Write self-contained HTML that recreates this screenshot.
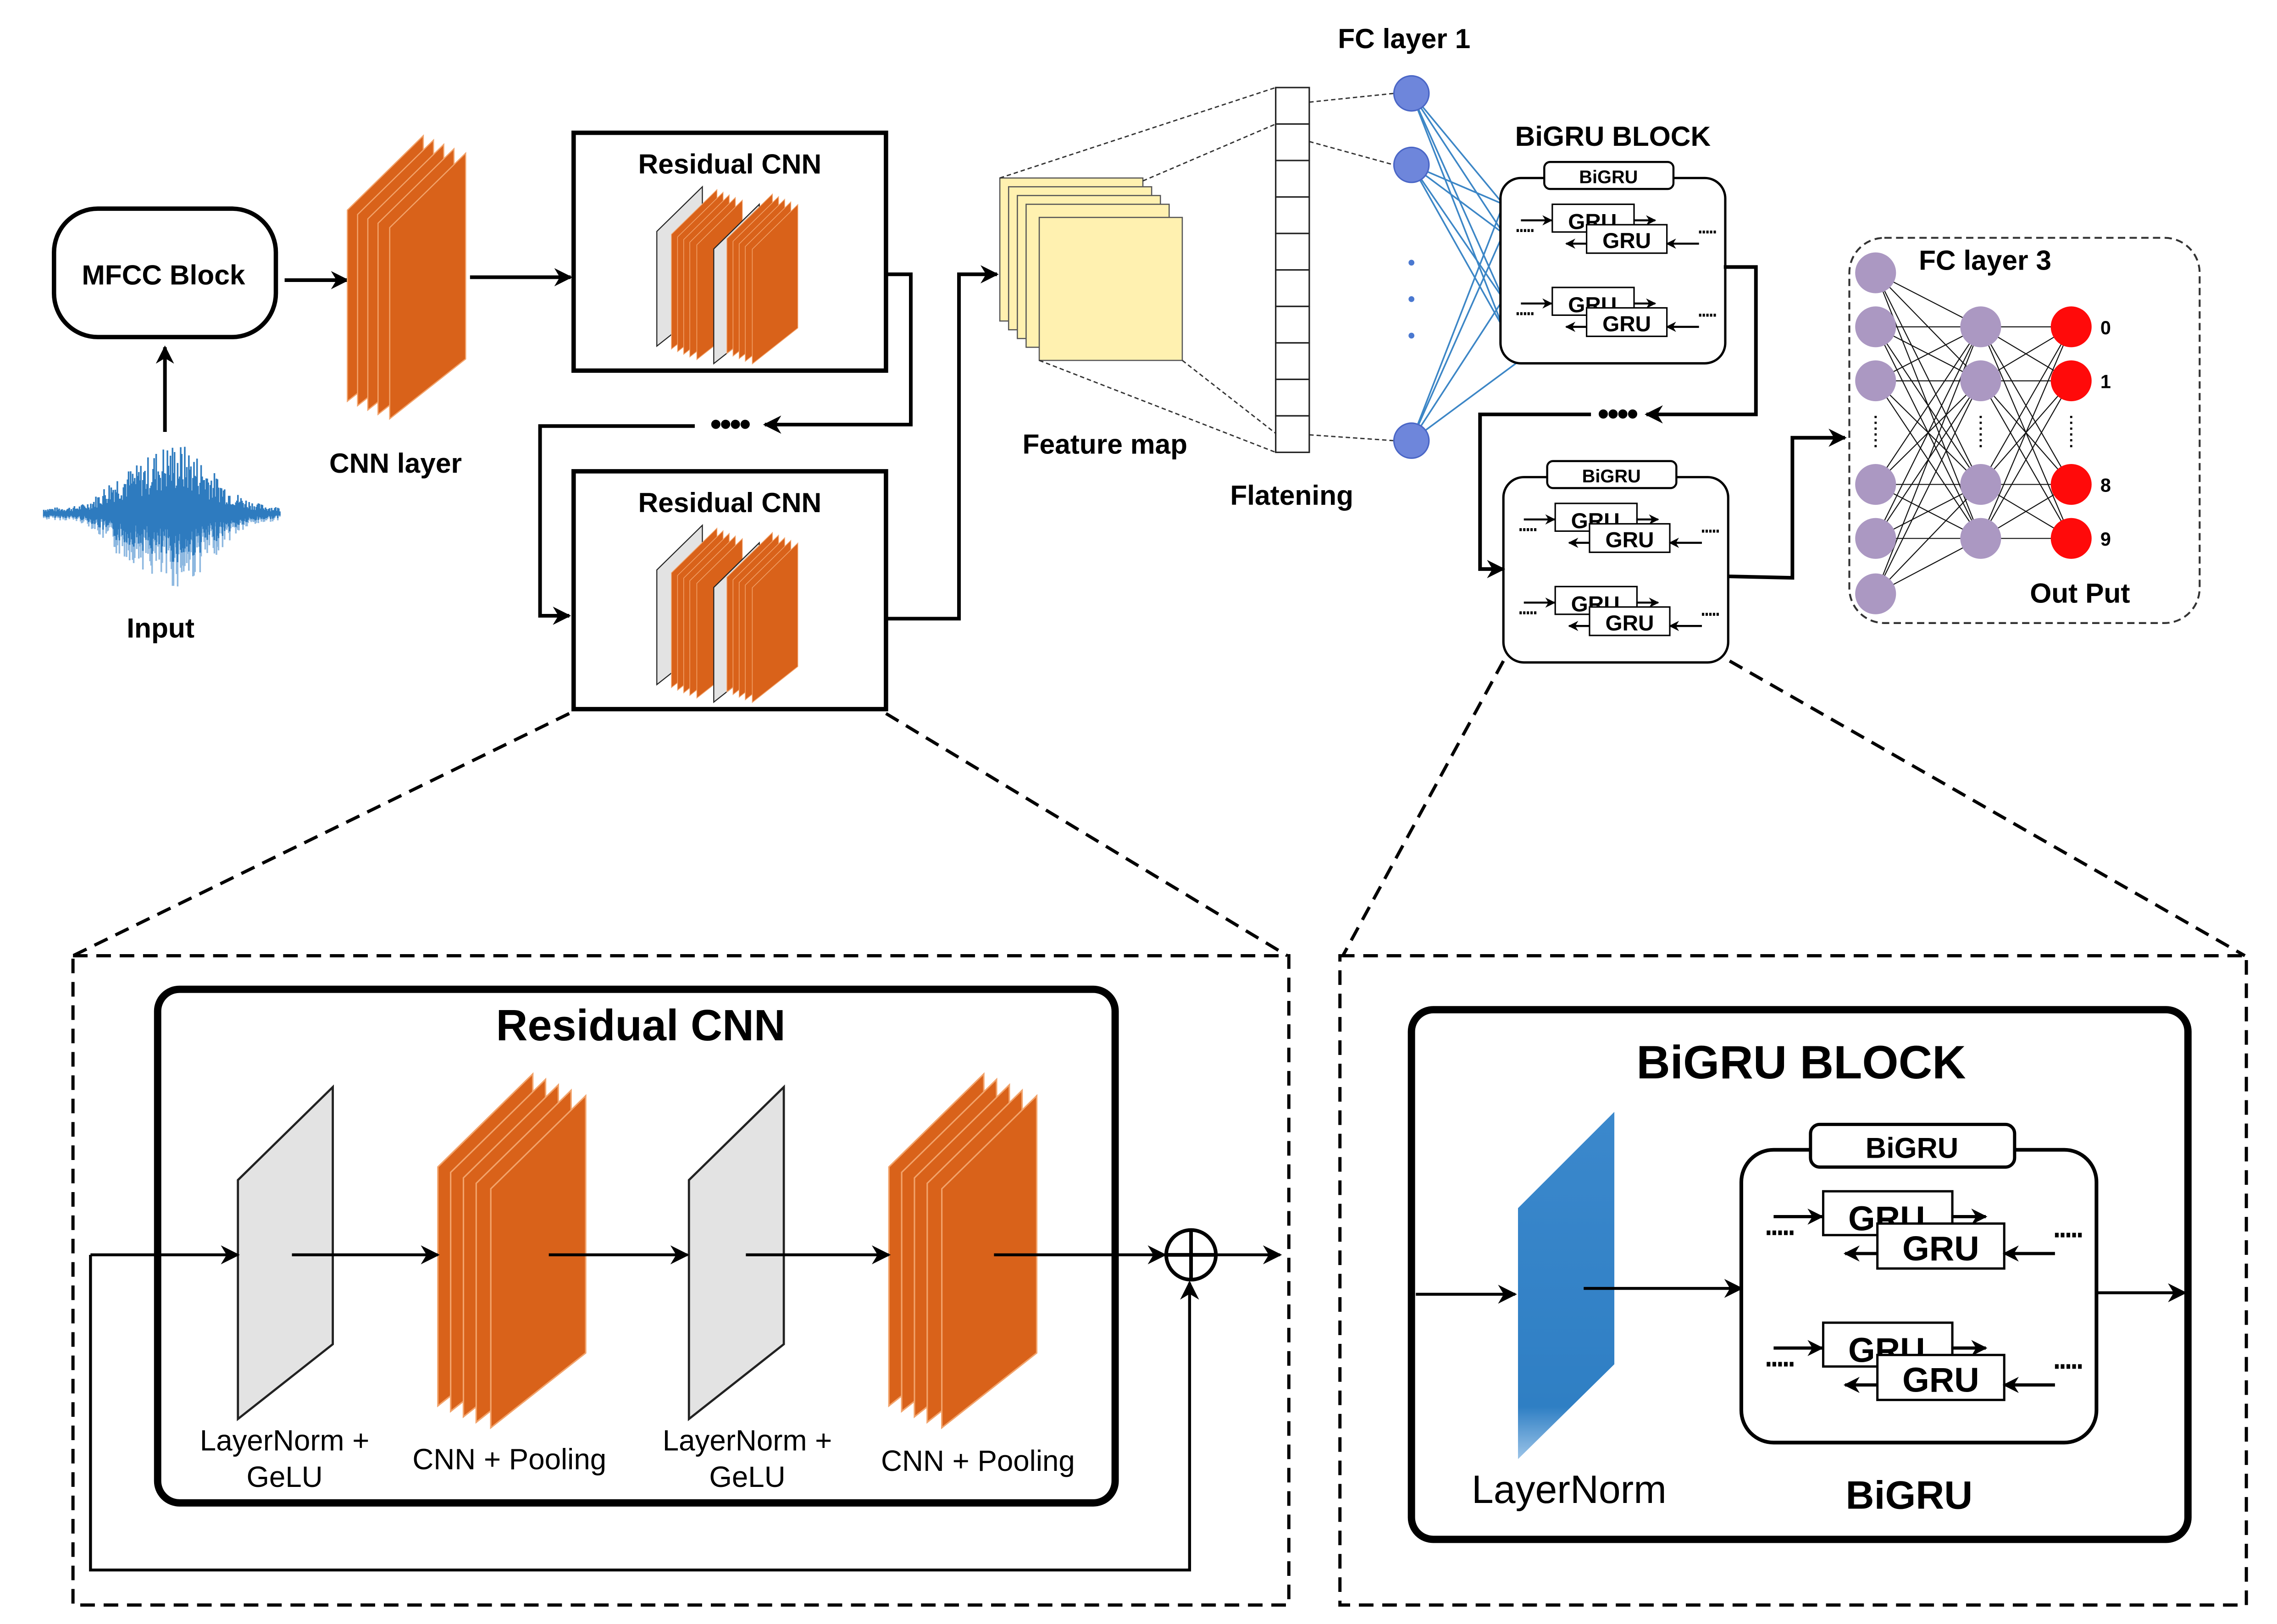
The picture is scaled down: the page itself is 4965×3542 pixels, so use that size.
<!DOCTYPE html>
<html><head><meta charset="utf-8"><style>html,body{margin:0;padding:0;background:#fff}svg{display:block}</style></head>
<body>
<svg xmlns="http://www.w3.org/2000/svg" width="4965" height="3542" viewBox="0 0 1560 1113" preserveAspectRatio="none" font-family="Liberation Sans, Arial, sans-serif">
<defs>
<marker id="ar" viewBox="0 0 10 10" refX="9" refY="5" markerWidth="5" markerHeight="5" orient="auto" markerUnits="strokeWidth"><path d="M0,0 L10,5 L0,10 L3,5 z" fill="#000"/></marker>
<marker id="ar2" viewBox="0 0 10 10" refX="9" refY="5" markerWidth="6.5" markerHeight="6.5" orient="auto" markerUnits="strokeWidth"><path d="M0,0 L10,5 L0,10 L3,5 z" fill="#000"/></marker>
<polygon id="sh" points="0,51 52,0 52,141 0,182" fill="#D9621A" stroke="#F2A36B" stroke-width="0.8"/>
<polygon id="gs" points="0,51 52,0 52,141 0,182" fill="#E3E3E3" stroke="#222" stroke-width="1.2"/>
<g id="stk"><use href="#sh"/><use href="#sh" x="7" y="3"/><use href="#sh" x="14" y="6"/><use href="#sh" x="21" y="9"/><use href="#sh" x="29" y="12"/></g>
<linearGradient id="bl" x1="0" y1="0" x2="0" y2="1"><stop offset="0" stop-color="#3B88CC"/><stop offset="0.85" stop-color="#2F7FC4"/><stop offset="1" stop-color="#9CC4E8"/></linearGradient>
<g id="bg">
<rect x="0" y="0" width="154" height="127" rx="14" fill="#fff" stroke="#000" stroke-width="1.6"/>
<rect x="30" y="-11" width="88.5" height="18.5" rx="4" fill="#fff" stroke="#000" stroke-width="1.4"/>
<text x="74" y="3.5" font-size="12.5" font-weight="bold" text-anchor="middle">BiGRU</text>
<g id="pair">
<rect x="35.5" y="18" width="56" height="19" fill="#fff" stroke="#000" stroke-width="1"/>
<text x="63" y="35" font-size="15" font-weight="bold" text-anchor="middle">GRU</text>
<rect x="59" y="32" width="55" height="19.5" fill="#fff" stroke="#000" stroke-width="1"/>
<text x="86.5" y="48" font-size="15" font-weight="bold" text-anchor="middle">GRU</text>
<line x1="14" y1="29" x2="35" y2="29" stroke="#000" stroke-width="1.4" marker-end="url(#ar)"/>
<line x1="91" y1="29" x2="106" y2="29" stroke="#000" stroke-width="1.4" marker-end="url(#ar)"/>
<line x1="59" y1="45" x2="45" y2="45" stroke="#000" stroke-width="1.4" marker-end="url(#ar)"/>
<line x1="136" y1="45" x2="114" y2="45" stroke="#000" stroke-width="1.4" marker-end="url(#ar)"/>
<line x1="11" y1="36" x2="23" y2="36" stroke="#000" stroke-width="2" stroke-dasharray="1.6,0.9"/>
<line x1="136" y1="37" x2="148" y2="37" stroke="#000" stroke-width="2" stroke-dasharray="1.6,0.9"/>
</g>
<use href="#pair" y="57"/>
</g>
</defs>

<!-- MFCC -->
<rect x="37" y="143" width="152" height="88" rx="30" fill="#fff" stroke="#000" stroke-width="3"/>
<text x="112" y="195" font-size="19" font-weight="bold" text-anchor="middle">MFCC Block</text>
<line x1="113" y1="296" x2="113" y2="238" stroke="#000" stroke-width="2.5" marker-end="url(#ar)"/>
<g id="wave" stroke="#2E7BBF" stroke-width="1.1" fill="none"></g>
<text x="110" y="437" font-size="19" font-weight="bold" text-anchor="middle">Input</text>
<line x1="195" y1="192" x2="238" y2="192" stroke="#000" stroke-width="2.5" marker-end="url(#ar)"/>

<!-- CNN layer -->
<use href="#stk" x="238" y="93"/>
<text x="271" y="324" font-size="19" font-weight="bold" text-anchor="middle">CNN layer</text>
<line x1="322" y1="190" x2="391" y2="190" stroke="#000" stroke-width="2.5" marker-end="url(#ar)"/>

<!-- Residual boxes -->
<g id="rbox">
<rect x="393" y="91" width="214" height="163" fill="#fff" stroke="#000" stroke-width="3"/>
<text x="500" y="119" font-size="19" font-weight="bold" text-anchor="middle">Residual CNN</text>
<g transform="translate(450,128) scale(0.6)"><use href="#gs"/></g>
<g transform="translate(460,130) scale(0.6)"><use href="#sh"/><use href="#sh" x="7" y="3"/><use href="#sh" x="14" y="6"/><use href="#sh" x="21" y="9"/><use href="#sh" x="29" y="12"/></g>
<g transform="translate(489,140) scale(0.6)"><use href="#gs"/></g>
<g transform="translate(498,133) scale(0.6)"><use href="#sh"/><use href="#sh" x="7" y="3"/><use href="#sh" x="14" y="6"/><use href="#sh" x="21" y="9"/><use href="#sh" x="29" y="12"/></g>
</g>
<use href="#rbox" y="232"/>
<polyline points="607,188 624,188 624,291 524,291" fill="none" stroke="#000" stroke-width="2.5" marker-end="url(#ar)"/>
<text x="500" y="298" font-size="22" font-weight="bold" text-anchor="middle" letter-spacing="-1">••••</text>
<polyline points="476,292 370,292 370,422 390,422" fill="none" stroke="#000" stroke-width="2.5" marker-end="url(#ar)"/>
<polyline points="607,424 657,424 657,188 683,188" fill="none" stroke="#000" stroke-width="2.5" marker-end="url(#ar)"/>

<!-- Feature map -->
<g stroke="#555" stroke-width="0.8" fill="#FFF1B0">
<rect x="685" y="122" width="98" height="98"/><rect x="691" y="128" width="98" height="98"/><rect x="697" y="134" width="98" height="98"/><rect x="703" y="140" width="98" height="98"/><rect x="712" y="149" width="98" height="98"/>
</g>
<g stroke="#333" stroke-width="0.9" stroke-dasharray="3,2" fill="none">
<line x1="685" y1="122" x2="874" y2="60"/><line x1="783" y1="124" x2="874" y2="85"/>
<line x1="712" y1="247" x2="874" y2="310"/><line x1="810" y1="247" x2="874" y2="297"/>
<line x1="897" y1="70" x2="955" y2="64"/><line x1="897" y1="97" x2="955" y2="113"/><line x1="897" y1="298" x2="955" y2="302"/>
</g>
<text x="757" y="311" font-size="19" font-weight="bold" text-anchor="middle">Feature map</text>
<g fill="#fff" stroke="#222" stroke-width="1">
<rect x="874" y="60" width="23" height="25"/><rect x="874" y="85" width="23" height="25"/><rect x="874" y="110" width="23" height="25"/><rect x="874" y="135" width="23" height="25"/><rect x="874" y="160" width="23" height="25"/><rect x="874" y="185" width="23" height="25"/><rect x="874" y="210" width="23" height="25"/><rect x="874" y="235" width="23" height="25"/><rect x="874" y="260" width="23" height="25"/><rect x="874" y="285" width="23" height="25"/>
</g>
<text x="885" y="346" font-size="19" font-weight="bold" text-anchor="middle">Flatening</text>
<text x="962" y="33" font-size="19" font-weight="bold" text-anchor="middle">FC layer 1</text>
<g stroke="#3C86C6" stroke-width="1.1">
<line x1="967" y1="64" x2="1030" y2="140"/><line x1="967" y1="64" x2="1030" y2="160"/><line x1="967" y1="64" x2="1030" y2="205"/><line x1="967" y1="64" x2="1030" y2="225"/>
<line x1="967" y1="113" x2="1030" y2="140"/><line x1="967" y1="113" x2="1030" y2="160"/><line x1="967" y1="113" x2="1030" y2="205"/><line x1="967" y1="113" x2="1030" y2="225"/>
<line x1="967" y1="302" x2="1030" y2="140"/><line x1="967" y1="302" x2="1030" y2="160"/><line x1="967" y1="302" x2="1030" y2="205"/><line x1="967" y1="302" x2="1040" y2="248"/>
</g>
<g fill="#6E86DB" stroke="#4A66C6" stroke-width="1"><circle cx="967" cy="64" r="12"/><circle cx="967" cy="113" r="12"/><circle cx="967" cy="302" r="12"/></g>
<g fill="#4A78D0"><circle cx="967" cy="180" r="2"/><circle cx="967" cy="205" r="2"/><circle cx="967" cy="230" r="2"/></g>

<!-- BiGRU blocks -->
<text x="1105" y="100" font-size="19" font-weight="bold" text-anchor="middle">BiGRU BLOCK</text>
<use href="#bg" x="1028" y="122"/>
<use href="#bg" x="1030" y="327"/>
<polyline points="1181,183 1203,183 1203,284 1128,284" fill="none" stroke="#000" stroke-width="2.5" marker-end="url(#ar)"/>
<text x="1108" y="291" font-size="22" font-weight="bold" text-anchor="middle" letter-spacing="-1">••••</text>
<polyline points="1090,284 1014,284 1014,390 1030,390" fill="none" stroke="#000" stroke-width="2.5" marker-end="url(#ar)"/>
<polyline points="1184,395 1228,396 1228,300 1264,300" fill="none" stroke="#000" stroke-width="2.5" marker-end="url(#ar)"/>

<!-- FC layer 3 -->
<rect x="1267" y="163" width="240" height="264" rx="24" fill="none" stroke="#333" stroke-width="1.3" stroke-dasharray="5,3"/>
<text x="1360" y="185" font-size="19" font-weight="bold" text-anchor="middle">FC layer 3</text>
<g stroke="#111" stroke-width="0.7" id="w3"></g>
<g fill="#AB98C2"><circle cx="1285" cy="187" r="14"/><circle cx="1285" cy="224" r="14"/><circle cx="1285" cy="261" r="14"/><circle cx="1285" cy="332" r="14"/><circle cx="1285" cy="369" r="14"/><circle cx="1285" cy="407" r="14"/>
<circle cx="1357" cy="224" r="14"/><circle cx="1357" cy="261" r="14"/><circle cx="1357" cy="332" r="14"/><circle cx="1357" cy="369" r="14"/></g>
<g fill="#FF0A0A"><circle cx="1419" cy="224" r="14"/><circle cx="1419" cy="261" r="14"/><circle cx="1419" cy="332" r="14"/><circle cx="1419" cy="369" r="14"/></g>
<g stroke="#000" stroke-width="1.5" stroke-dasharray="1.5,2.5"><line x1="1285" y1="285" x2="1285" y2="308"/><line x1="1357" y1="285" x2="1357" y2="308"/><line x1="1419" y1="285" x2="1419" y2="308"/></g>
<g font-size="13" font-weight="bold"><text x="1439" y="229">0</text><text x="1439" y="266">1</text><text x="1439" y="337">8</text><text x="1439" y="374">9</text></g>
<text x="1425" y="413" font-size="19" font-weight="bold" text-anchor="middle">Out Put</text>

<!-- zoom dashed lines -->
<g stroke="#000" stroke-width="2.2" stroke-dasharray="10,6" fill="none">
<line x1="390" y1="489" x2="50" y2="655"/><line x1="607" y1="489" x2="882" y2="655"/>
<line x1="1030" y1="453" x2="920" y2="655"/><line x1="1185" y1="453" x2="1538" y2="655"/>
<rect x="50" y="655" width="833" height="445"/>
<rect x="918" y="655" width="621" height="445"/>
</g>

<!-- Bottom left -->
<rect x="108" y="678" width="656" height="352" rx="15" fill="none" stroke="#000" stroke-width="5"/>
<text x="439" y="713" font-size="30" font-weight="bold" text-anchor="middle">Residual CNN</text>
<g transform="translate(163,745) scale(1.25)"><use href="#gs"/></g>
<g transform="translate(300,736) scale(1.25)"><use href="#sh"/><use href="#sh" x="7" y="3"/><use href="#sh" x="14" y="6"/><use href="#sh" x="21" y="9"/><use href="#sh" x="29" y="12"/></g>
<g transform="translate(472,745) scale(1.25)"><use href="#gs"/></g>
<g transform="translate(609,736) scale(1.25)"><use href="#sh"/><use href="#sh" x="7" y="3"/><use href="#sh" x="14" y="6"/><use href="#sh" x="21" y="9"/><use href="#sh" x="29" y="12"/></g>
<g stroke="#000" stroke-width="2" fill="none">
<line x1="62" y1="860" x2="163" y2="860" marker-end="url(#ar2)"/>
<line x1="200" y1="860" x2="300" y2="860" marker-end="url(#ar2)"/>
<line x1="376" y1="860" x2="471" y2="860" marker-end="url(#ar2)"/>
<line x1="511" y1="860" x2="609" y2="860" marker-end="url(#ar2)"/>
<line x1="681" y1="860" x2="798" y2="860" marker-end="url(#ar2)"/>
<line x1="834" y1="860" x2="877" y2="860" marker-end="url(#ar2)"/>
<polyline points="62,860 62,1076 815,1076 815,879" marker-end="url(#ar2)"/>
<circle cx="816" cy="860" r="17" stroke-width="2.5"/>
<line x1="799" y1="860" x2="833" y2="860" stroke-width="2.5"/><line x1="816" y1="843" x2="816" y2="877" stroke-width="2.5"/>
</g>
<g font-size="20" text-anchor="middle">
<text x="195" y="994">LayerNorm +</text><text x="195" y="1019">GeLU</text>
<text x="349" y="1007">CNN + Pooling</text>
<text x="512" y="994">LayerNorm +</text><text x="512" y="1019">GeLU</text>
<text x="670" y="1008">CNN + Pooling</text>
</g>

<!-- Bottom right -->
<rect x="967" y="692" width="532" height="363" rx="15" fill="none" stroke="#000" stroke-width="5"/>
<text x="1234" y="739" font-size="32" font-weight="bold" text-anchor="middle">BiGRU BLOCK</text>
<polygon points="1040,828 1106,762 1106,935 1040,1000" fill="url(#bl)"/>
<g stroke="#000" stroke-width="2" fill="none">
<line x1="970" y1="887" x2="1038" y2="887" marker-end="url(#ar2)"/>
<line x1="1085" y1="883" x2="1193" y2="883" marker-end="url(#ar2)"/>
<line x1="1436" y1="886" x2="1497" y2="886" marker-end="url(#ar2)"/>
</g>
<g transform="translate(1193,788) scale(1.58)"><use href="#bg"/></g>
<text x="1075" y="1030" font-size="27" text-anchor="middle">LayerNorm</text>
<text x="1308" y="1034" font-size="27" font-weight="bold" text-anchor="middle">BiGRU</text>

<script>
(function(){
var ns="http://www.w3.org/2000/svg";
var w=document.getElementById("w3");
var c1=[187,224,261,332,369,407],c2=[224,261,332,369];
c1.forEach(function(a){c2.forEach(function(b){var l=document.createElementNS(ns,"line");l.setAttribute("x1",1285);l.setAttribute("y1",a);l.setAttribute("x2",1357);l.setAttribute("y2",b);w.appendChild(l);});});
c2.forEach(function(a){c2.forEach(function(b){var l=document.createElementNS(ns,"line");l.setAttribute("x1",1357);l.setAttribute("y1",a);l.setAttribute("x2",1419);l.setAttribute("y2",b);w.appendChild(l);});});
var g=document.getElementById("wave");var s=7,d="",d2="";
function r(){s=(s*9301+49297)%233280;return s/233280;}
for(var x=30;x<=192;x+=0.7){var t=(x-30)/162;var env=4+45*Math.exp(-Math.pow((t-0.55)/0.22,2))+10*Math.exp(-Math.pow((t-0.3)/0.08,2));var a=env*(0.3+0.7*r());var b=env*(0.3+0.7*r());
d+="M"+x.toFixed(1)+","+(352-a).toFixed(1)+"V"+(352+b*0.7).toFixed(1);
d2+="M"+x.toFixed(1)+","+(352).toFixed(1)+"V"+(352+b*1.05).toFixed(1);}
var p2=document.createElementNS(ns,"path");p2.setAttribute("d",d2);p2.setAttribute("stroke","#8DB8E0");g.appendChild(p2);
var p=document.createElementNS(ns,"path");p.setAttribute("d",d);g.appendChild(p);
})();
</script>
</svg>
</body></html>
